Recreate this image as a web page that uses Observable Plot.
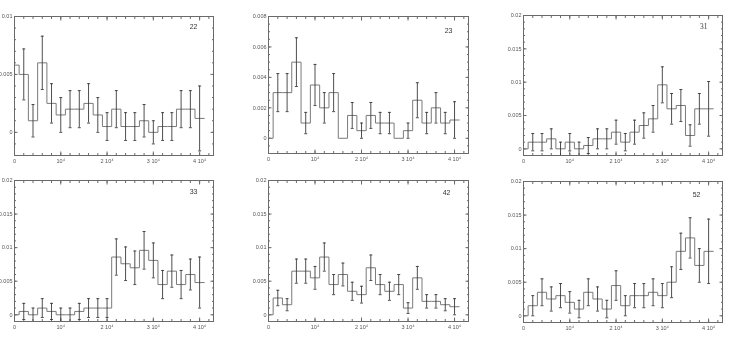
<!DOCTYPE html>
<html><head><meta charset="utf-8">
<script src="https://cdn.jsdelivr.net/npm/d3@7"></script>
<script src="https://cdn.jsdelivr.net/npm/@observablehq/plot@0.6"></script>
<style>
html,body{margin:0;padding:0;background:#fff}
#root{position:relative;width:733px;height:338px;overflow:hidden;font-family:"Liberation Sans",Arial,sans-serif}
#root > div{position:absolute;will-change:transform}
</style></head><body><div id="root"></div>
<script>
// ---- data ----
const binCenters = [0,2000,4000,6000,8000,10000,12000,14000,16000,18000,20000,22000,24000,26000,28000,30000,32000,34000,36000,38000,40000];
const binWidth = 2000;
const xTicks = [0,10000,20000,30000,40000];
const xTickLabels = ["0","10\u2074","2 10\u2074","3 10\u2074","4 10\u2074"];
const panelNames = ["22","23","31","33","42","52"];

const values22 = [0.0058,0.005,0.001,0.006,0.0025,0.0015,0.002,0.002,0.0025,0.0015,0.0005,0.002,0.0005,0.0005,0.001,0,0.0005,0.0005,0.002,0.002,0.0012];
const errors22 = [0,0.0022,0.0014,0.0023,0.0017,0.0015,0.0016,0.0016,0.0017,0.0015,0.0012,0.0016,0.0012,0.0012,0.0014,0.001,0.0012,0.0012,0.0016,0.0016,0.0028];
const values23 = [0,0.003,0.003,0.005,0.001,0.0035,0.002,0.003,0,0.0015,0.0005,0.0015,0.001,0.001,0,0.0005,0.0025,0.001,0.002,0.001,0.0012];
const errors23 = [0,0.00125,0.00125,0.0016,0.0007,0.00135,0.001,0.00125,0,0.00085,0.0005,0.00085,0.0007,0.0007,0,0.0005,0.00115,0.0007,0.001,0.0007,0.0012];
const values31 = [0,0.001,0.001,0.0015,0,0.001,0,0.0005,0.0015,0.0015,0.0025,0.001,0.0025,0.0035,0.0045,0.0096,0.006,0.0065,0.002,0.006,0.006];
const errors31 = [0,0.0013,0.0013,0.0015,0.001,0.0013,0.001,0.0012,0.0015,0.0015,0.0018,0.0013,0.0018,0.0019,0.002,0.0027,0.0023,0.0024,0.0016,0.0023,0.0041];
const values33 = [0,0.0005,0,0.001,0.0005,0,0,0.0005,0.001,0.001,0.001,0.0086,0.0076,0.007,0.0096,0.0081,0.0045,0.0065,0.0045,0.006,0.0048];
const errors33 = [0,0.0012,0.001,0.0014,0.0012,0.001,0.001,0.0012,0.0014,0.0014,0.0014,0.0027,0.0025,0.0025,0.0028,0.0026,0.0021,0.0024,0.0021,0.0023,0.0038];
const values42 = [0,0.0025,0.0015,0.0065,0.0065,0.0055,0.0086,0.0045,0.006,0.0035,0.003,0.007,0.0045,0.0035,0.0045,0.001,0.0055,0.002,0.002,0.0015,0.0012];
const errors42 = [0,0.00115,0.0009,0.0018,0.0018,0.0017,0.0021,0.0015,0.0017,0.00135,0.00125,0.0019,0.0015,0.00135,0.0015,0.0008,0.0017,0.001,0.001,0.0009,0.0012];
const values52 = [0,0.0015,0.0035,0.0025,0.003,0.002,0.001,0.0035,0.0025,0.001,0.0045,0.0015,0.003,0.003,0.0035,0.003,0.005,0.0096,0.0116,0.0075,0.0096];
const errors52 = [0,0.0015,0.002,0.0018,0.0018,0.0016,0.0013,0.002,0.0018,0.0013,0.0022,0.0015,0.0018,0.0018,0.002,0.0018,0.0023,0.0027,0.003,0.0025,0.0048];

const yTicks22 = [0,0.005,0.01];
const yTicks23 = [0,0.002,0.004,0.006,0.008];
const yTicks2x = [0,0.005,0.01,0.015,0.02];

// ---- layout ----
const panels = [
  {name:panelNames[0], values:values22, errors:errors22, yTicks:yTicks22, yDomain:[-0.002,0.01], yMinor:0.001, left:14, top:16, w:199, h:139, lx:-16, ly:8, font:"sans-serif"},
  {name:panelNames[1], values:values23, errors:errors23, yTicks:yTicks23, yDomain:[-0.001,0.008], yMinor:0.0005, left:268, top:16, w:200, h:137, lx:-16, ly:12, font:"sans-serif"},
  {name:panelNames[2], values:values31, errors:errors31, yTicks:yTicks2x, yDomain:[-0.001,0.02], yMinor:0.001, left:523, top:15, w:199, h:140, lx:-15, ly:8, font:"serif"},
  {name:panelNames[3], values:values33, errors:errors33, yTicks:yTicks2x, yDomain:[-0.001,0.02], yMinor:0.001, left:14, top:180, w:199, h:141, lx:-16, ly:9, font:"sans-serif"},
  {name:panelNames[4], values:values42, errors:errors42, yTicks:yTicks2x, yDomain:[-0.001,0.02], yMinor:0.001, left:268, top:180, w:200, h:141, lx:-18, ly:10, font:"sans-serif"},
  {name:panelNames[5], values:values52, errors:errors52, yTicks:yTicks2x, yDomain:[-0.001,0.02], yMinor:0.001, left:523, top:181, w:199, h:141, lx:-22, ly:11, font:"sans-serif"}
];
const xDomain = [0, 43000];
const capHalf = 320;
const mL = 30, mR = 6, mT = 6, mB = 16;
const fs = 5.5;
const frameColor = "#6a6a6a", stepColor = "#7a7a7a", errColor = "#3a3a3a", textColor = "#555";

const root = document.getElementById("root");
for (const p of panels) {
  const step = binCenters.flatMap((c,i) => [{x:c-binWidth/2, y:p.values[i]},{x:c+binWidth/2, y:p.values[i]}]);
  const bars = binCenters.map((c,i) => ({x:c, v:p.values[i], e:p.errors[i]})).filter(d => d.e > 0);
  const xMinor = d3.range(0, xDomain[1], binWidth);
  const nMinor = Math.round((p.yDomain[1]-p.yDomain[0])/p.yMinor);
  const yMinor = d3.range(nMinor+1).map(i => p.yDomain[0] + i*p.yMinor);
  const chart = Plot.plot({
    width: mL + p.w + mR, height: mT + p.h + mB,
    marginLeft: mL, marginRight: mR, marginTop: mT, marginBottom: mB,
    x: {domain: xDomain}, y: {domain: p.yDomain},
    style: {background: "transparent", overflow: "visible", fontFamily: "'Liberation Sans', Arial, sans-serif"},
    marks: [
      Plot.axisX(xMinor, {anchor:"bottom", tickSize:-2, tickFormat:() => "", stroke:frameColor, label:null}),
      Plot.axisX(xMinor, {anchor:"top", tickSize:-2, tickFormat:() => "", stroke:frameColor, label:null}),
      Plot.axisX(xTicks, {anchor:"bottom", tickSize:-3.5, tickFormat:() => "", stroke:frameColor, label:null}),
      Plot.axisX(xTicks, {anchor:"top", tickSize:-3.5, tickFormat:() => "", stroke:frameColor, label:null}),
      Plot.axisX(xTicks, {anchor:"bottom", tickSize:0, tickPadding:3.5, tickFormat:(d,i) => xTickLabels[i], fontSize:fs, fill:textColor, label:null}),
      Plot.axisY(yMinor, {anchor:"left", tickSize:-2, tickFormat:() => "", stroke:frameColor, label:null}),
      Plot.axisY(yMinor, {anchor:"right", tickSize:-2, tickFormat:() => "", stroke:frameColor, label:null}),
      Plot.axisY(p.yTicks, {anchor:"left", tickSize:-3.5, tickFormat:() => "", stroke:frameColor, label:null}),
      Plot.axisY(p.yTicks, {anchor:"right", tickSize:-3.5, tickFormat:() => "", stroke:frameColor, label:null}),
      Plot.axisY(p.yTicks, {anchor:"left", tickSize:0, tickPadding:2, tickFormat:d => String(d), fontSize:fs, fill:textColor, label:null}),
      Plot.line(step, {x:"x", y:"y", stroke:stepColor, strokeWidth:1, clip:true}),
      Plot.ruleX(bars, {x:"x", y1:d => d.v - d.e, y2:d => d.v + d.e, stroke:errColor, strokeWidth:0.9, clip:true}),
      Plot.link(bars, {x1:d => d.x - capHalf, x2:d => d.x + capHalf, y1:d => d.v + d.e, y2:d => d.v + d.e, stroke:errColor, strokeWidth:0.9, clip:true}),
      Plot.link(bars, {x1:d => d.x - capHalf, x2:d => d.x + capHalf, y1:d => d.v - d.e, y2:d => d.v - d.e, stroke:errColor, strokeWidth:0.9, clip:true}),
      Plot.frame({stroke:frameColor, strokeWidth:1}),
      Plot.text([p.name], {frameAnchor:"top-right", dx:p.lx, dy:p.ly, text:d => d, fontSize:p.font === "serif" ? 7.5 : 7, fill:"#333", fontFamily:p.font === "serif" ? "'Liberation Serif', serif" : "'Liberation Sans', sans-serif"})
    ]
  });
  const wrap = document.createElement("div");
  wrap.style.left = (p.left - mL) + "px";
  wrap.style.top = (p.top - mT) + "px";
  wrap.appendChild(chart);
  root.appendChild(wrap);
}
</script>
</body></html>
